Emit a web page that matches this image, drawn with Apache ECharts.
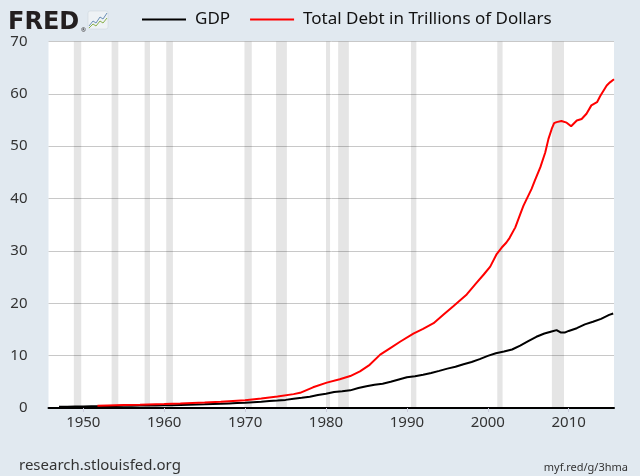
<!DOCTYPE html>
<html lang="en">
<head>
    <meta charset="UTF-8">
    <title>GDP vs Total Debt</title>
    <style>
        html, body { margin: 0; padding: 0; background: #e1e9f0; }
        #main { width: 640px; height: 476px; }
    </style>
</head>
<body>
    <div id="main"></div>
    <script src="https://cdn.jsdelivr.net/npm/echarts@6/dist/echarts.min.js"></script>
    <script>
        // GDP, trillions of dollars
        var gdpYears = [1947, 1948, 1949, 1950, 1951, 1952, 1953, 1954, 1955, 1956, 1957, 1958, 1959,
            1960, 1961, 1962, 1963, 1964, 1965, 1966, 1967, 1968, 1969, 1970, 1971, 1972, 1973, 1974,
            1975, 1976, 1977, 1978, 1979, 1980, 1981, 1982, 1983, 1984, 1985, 1986, 1987, 1988, 1989,
            1990, 1991, 1992, 1993, 1994, 1995, 1996, 1997, 1998, 1999, 2000, 2001, 2002, 2003, 2004,
            2005, 2006, 2007, 2008, 2008.5, 2009, 2009.5, 2010, 2011, 2012, 2013, 2014, 2015, 2015.5];
        var gdpValues = [0.24, 0.26, 0.27, 0.28, 0.34, 0.36, 0.39, 0.39, 0.41, 0.43, 0.46, 0.46, 0.49,
            0.53, 0.53, 0.58, 0.61, 0.65, 0.70, 0.77, 0.80, 0.87, 0.94, 1.01, 1.10, 1.19, 1.34, 1.43,
            1.55, 1.77, 1.94, 2.15, 2.49, 2.73, 3.05, 3.18, 3.37, 3.81, 4.15, 4.45, 4.65, 5.02, 5.45,
            5.87, 6.05, 6.36, 6.70, 7.09, 7.52, 7.87, 8.36, 8.79, 9.33, 9.95, 10.47, 10.78, 11.17, 11.92,
            12.77, 13.60, 14.22, 14.67, 14.88, 14.43, 14.40, 14.72, 15.24, 15.97, 16.48, 17.03, 17.78, 18.06];

        // Total debt, trillions of dollars
        var debtYears = [1951.75, 1953, 1955, 1957, 1960, 1962, 1965, 1967, 1970, 1972, 1974, 1976,
            1976.8, 1978.4, 1980.1, 1981.7, 1983, 1984.2, 1985.4, 1986.7, 1987.9, 1989.2, 1990.8, 1992,
            1993.3, 1994.5, 1995.7, 1997.4, 1998.6, 1999.5, 2000.3, 2001.1, 2001.7, 2002.3, 2002.7,
            2003.4, 2004, 2004.4, 2004.8, 2005.4, 2005.8, 2006.5, 2007.1, 2007.5, 2007.9, 2008.2,
            2008.5, 2009.1, 2009.75, 2010.3, 2011, 2011.6, 2012.2, 2012.8, 2013.5, 2013.9, 2014.7,
            2015.1, 2015.6];
        var debtValues = [0.45, 0.50, 0.58, 0.64, 0.76, 0.85, 1.05, 1.20, 1.50, 1.80, 2.20, 2.65,
            2.9, 3.95, 4.85, 5.5, 6.1, 7.0, 8.25, 10.2, 11.4, 12.7, 14.2, 15.1,
            16.2, 17.8, 19.4, 21.7, 23.9, 25.5, 27.0, 29.4, 30.6, 31.6, 32.5,
            34.5, 37.0, 38.6, 39.9, 41.8, 43.4, 46.0, 48.8, 51.4, 53.3, 54.4,
            54.6, 54.8, 54.5, 53.8, 54.9, 55.2, 56.2, 57.8, 58.4, 59.6, 61.6,
            62.2, 62.8];

        // recessions (shaded)
        var recStart = [1948.83, 1953.5, 1957.58, 1960.25, 1969.92, 1973.83, 1980.0, 1981.5, 1990.5, 2001.17, 2007.92];
        var recEnd = [1949.75, 1954.33, 1958.25, 1961.08, 1970.83, 1975.17, 1980.5, 1982.83, 1991.17, 2001.83, 2009.42];

        var xTicks = [1950, 1960, 1970, 1980, 1990, 2000, 2010];

        function pairs(xs, ys) {
            var out = [];
            for (var i = 0; i < xs.length; i++) out.push([xs[i], ys[i]]);
            return out;
        }
        var bands = [];
        for (var i = 0; i < recStart.length; i++) {
            bands.push([{ xAxis: recStart[i] }, { xAxis: recEnd[i] }]);
        }

        var font = 'Noto Sans';
        var myChart = echarts.init(document.getElementById('main'));
        var option = {
            backgroundColor: '#e1e9f0',
            animation: false,
            grid: { left: 48.5, right: 26, top: 41.5, bottom: 68, backgroundColor: '#fff', show: true, borderWidth: 0 },
            legend: {
                left: 137, top: 6,
                itemWidth: 44, itemHeight: 2, itemGap: 20,
                icon: 'rect',
                textStyle: { fontFamily: font, fontSize: 17, color: '#111', padding: [0, 0, 0, 4] },
                data: ['GDP', 'Total Debt in Trillions of Dollars']
            },
            xAxis: {
                type: 'value',
                min: 1945.7, max: 2015.6,
                axisLine: { lineStyle: { color: '#000', width: 2 } },
                axisTick: { show: true, customValues: xTicks, length: 4, lineStyle: { color: '#ccd' } },
                axisLabel: {
                    customValues: xTicks, fontFamily: font, fontSize: 15, color: '#333', margin: 7,
                    formatter: function (v) { return String(v); }
                },
                splitLine: { show: false }
            },
            yAxis: {
                type: 'value',
                min: 0, max: 70, interval: 10,
                axisLine: { show: false },
                axisTick: { show: false },
                axisLabel: { fontFamily: font, fontSize: 15, color: '#333', margin: 21 },
                splitLine: { lineStyle: { color: '#c8c8c8', width: 1 } }
            },
            graphic: [
                { type: 'text', left: 8, top: 11, style: { text: 'FRED', fontFamily: 'DejaVu Sans', fontWeight: 'bold', fontSize: 24, fill: '#231f20' } },
                { type: 'text', left: 81, top: 27, style: { text: '®', fontFamily: font, fontSize: 6, fill: '#231f20' } },
                { type: 'rect', shape: { x: 88, y: 11, width: 20, height: 18, r: 2 }, style: { fill: '#eef2f5', stroke: '#c9d3da', lineWidth: 0.5 } },
                { type: 'polyline', shape: { points: [[89, 26], [93, 21], [96, 23], [100, 17], [103, 19], [107, 13]] }, style: { stroke: '#6a8fb5', fill: null, lineWidth: 1 } },
                { type: 'polyline', shape: { points: [[89, 28], [93, 24], [96, 26], [100, 21], [103, 23], [107, 18]] }, style: { stroke: '#8ab04a', fill: null, lineWidth: 1 } },
                { type: 'text', left: 19, top: 458, style: { text: 'research.stlouisfed.org', fontFamily: font, fontSize: 15, fill: '#333' } },
                { type: 'text', right: 12, top: 462, style: { text: 'myf.red/g/3hma', fontFamily: font, fontSize: 11, fill: '#333' } }
            ],
            series: [
                {
                    name: 'GDP',
                    type: 'line',
                    data: pairs(gdpYears, gdpValues),
                    showSymbol: false,
                    color: '#000',
                    lineStyle: { color: '#000', width: 2 },
                    markArea: {
                        silent: true,
                        itemStyle: { color: 'rgba(0,0,0,0.1)' },
                        data: bands
                    }
                },
                {
                    name: 'Total Debt in Trillions of Dollars',
                    type: 'line',
                    data: pairs(debtYears, debtValues),
                    showSymbol: false,
                    color: '#f00',
                    lineStyle: { color: '#f00', width: 2 }
                }
            ]
        };
        myChart.setOption(option);
    </script>
</body>
</html>
